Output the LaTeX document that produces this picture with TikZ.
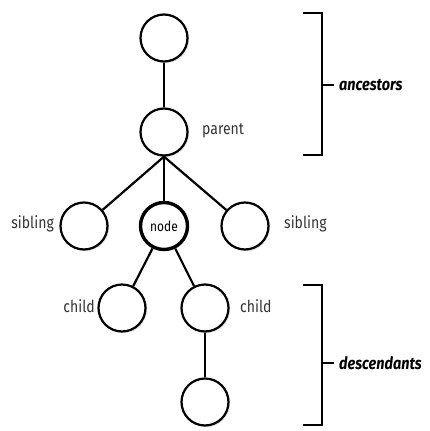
\documentclass[tikz,border=0pt]{standalone}
\usepackage{fontspec}
\setmainfont[FakeStretch=0.85]{Fira Sans}
\usetikzlibrary{shadows}
\begin{document}
\begin{tikzpicture}[x=1pt,y=-1pt,
  tnode/.style={circle,draw=black,line width=2.2pt,fill=white,minimum size=47pt,inner sep=0pt,
    drop shadow={opacity=0.25,shadow xshift=1.5pt,shadow yshift=-1.5pt}},
  focus/.style={tnode,line width=3.4pt},
  edge/.style={line width=2.2pt},
  brk/.style={line width=2.6pt},
  lbl/.style={font=\fontsize{16.5}{18}\selectfont,text=black!80,inner sep=0pt},
  ilbl/.style={font=\fontsize{17}{19}\selectfont\itshape\bfseries,inner sep=0pt,anchor=west}]
\useasboundingbox (0,0) rectangle (429,431);
\node[tnode] (top) at (164,38) {};
\node[tnode] (parent) at (164,132) {};
\node[tnode] (sl) at (84,226) {};
\node[focus,font=\fontsize{14}{16}\selectfont] (node) at (164,226) {node};
\node[tnode] (sr) at (245,226) {};
\node[tnode] (cl) at (122,308) {};
\node[tnode] (cr) at (205,308) {};
\node[tnode] (gc) at (205,402) {};

\draw[edge] (top) -- (parent);
\draw[edge] (parent.south) -- (sl);
\draw[edge] (parent) -- (node);
\draw[edge] (parent.south) -- (sr);
\draw[edge] (node) -- (cl);
\draw[edge] (node) -- (cr);
\draw[edge] (cr) -- (gc);

\node[lbl,anchor=west] (lparent) at (202,131) {parent};
\node[lbl,anchor=east] (lsl) at (54,224) {sibling};
\node[lbl,anchor=west] (lsr) at (284,224) {sibling};
\node[lbl,anchor=east] (lcl) at (95,306) {child};
\node[lbl,anchor=west] (lcr) at (240,306) {child};

\coordinate (a1) at (303,13);
\coordinate (a2) at (322,13);
\coordinate (a3) at (322,155);
\coordinate (a4) at (303,155);
\coordinate (am) at (322,85);
\coordinate (ae) at (334,85);
\draw[brk] (a1) -- (a2) -- (a3) -- (a4);
\draw[brk] (am) -- (ae);
\node[ilbl] (anc) at (339,85) {ancestors};

\coordinate (d1) at (303,285);
\coordinate (d2) at (322,285);
\coordinate (d3) at (322,425);
\coordinate (d4) at (303,425);
\coordinate (dm) at (322,363);
\coordinate (de) at (334,363);
\draw[brk] (d1) -- (d2) -- (d3) -- (d4);
\draw[brk] (dm) -- (de);
\node[ilbl] (desc) at (339,363) {descendants};
\end{tikzpicture}
\end{document}
